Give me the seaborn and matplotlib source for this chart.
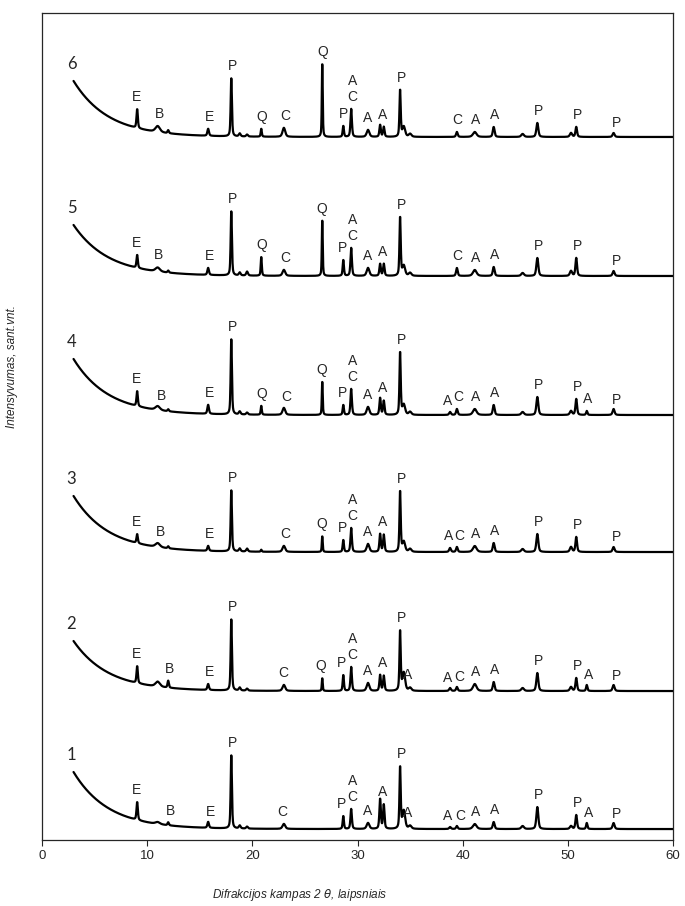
import numpy as np
import pandas as pd
from matplotlib import pyplot as plt
import seaborn as sns

# peak positions (2 theta, deg) and their widths (FWHM, deg)
peak_pos = [9.05, 11.0, 12.0, 15.8, 18.0, 18.8, 19.5, 20.85, 23.0, 26.65,
            28.65, 29.4, 31.0, 32.15, 32.5, 34.05, 34.4, 35.0, 38.8, 39.45,
            41.15, 42.95, 45.7, 47.1, 50.3, 50.8, 51.8, 54.35]
peak_fwhm = [0.15, 0.5, 0.15, 0.18, 0.14, 0.2, 0.2, 0.12, 0.3, 0.1,
             0.14, 0.16, 0.3, 0.16, 0.16, 0.14, 0.3, 0.3, 0.2, 0.18,
             0.4, 0.2, 0.3, 0.22, 0.25, 0.18, 0.15, 0.22]

# peak heights above background for samples 1..6 (same order as peak_pos)
heights_1 = [18, 2, 3, 6, 73, 3, 2, 0, 5, 0, 13, 20, 6, 30, 24, 62, 18, 3, 2, 3, 5, 7, 3, 22, 3, 14, 6, 6]
heights_2 = [17, 5, 7, 6, 71, 3, 2, 0, 6, 13, 16, 24, 8, 16, 15, 60, 18, 3, 3, 4, 7, 9, 3, 18, 4, 13, 6, 6]
heights_3 = [9, 4, 2, 5, 61, 3, 3, 2, 6, 16, 12, 24, 8, 18, 17, 61, 10, 3, 4, 5, 6, 9, 3, 18, 5, 15, 0, 5]
heights_4 = [15, 4, 2, 9, 75, 3, 2, 9, 7, 34, 10, 26, 8, 17, 14, 63, 10, 3, 3, 6, 6, 10, 3, 18, 4, 16, 4, 6]
heights_5 = [13, 4, 2, 7, 64, 3, 4, 19, 6, 57, 16, 28, 8, 12, 12, 59, 10, 3, 0, 8, 6, 9, 3, 18, 5, 18, 0, 5]
heights_6 = [19, 6, 3, 7, 58, 3, 2, 8, 9, 75, 11, 28, 7, 12, 10, 47, 10, 3, 0, 5, 5, 10, 3, 14, 4, 10, 0, 4]

# background of each pattern: flat level plus low-angle rise
bg_level = [11, 149, 288, 425, 564, 703]
bg_rise = [57, 50, 56, 56, 51, 56]
bg_decay = 3.3

sample_names = ["1", "2", "3", "4", "5", "6"]

# phase labels (2 theta, text) for each pattern
labels_1 = [(8.95, "E"), (12.2, "B"), (16.0, "E"), (18.1, "P"), (22.85, "C"), (28.5, "P"),
            (29.5, "A\nC"), (31.0, "A"), (32.4, "A"), (34.2, "P"), (34.8, "A"), (38.55, "A"),
            (39.75, "C"), (41.2, "A"), (43.0, "A"), (47.2, "P"), (50.9, "P"), (52.0, "A"), (54.6, "P")]
labels_2 = [(8.95, "E"), (12.1, "B"), (15.9, "E"), (18.1, "P"), (22.95, "C"), (26.5, "Q"), (28.5, "P"),
            (29.5, "A\nC"), (31.0, "A"), (32.4, "A"), (34.2, "P"), (34.8, "A"), (38.55, "A"),
            (39.7, "C"), (41.2, "A"), (43.0, "A"), (47.2, "P"), (50.9, "P"), (52.0, "A"), (54.6, "P")]
labels_3 = [(8.95, "E"), (11.3, "B"), (15.9, "E"), (18.1, "P"), (23.1, "C"), (26.6, "Q"), (28.6, "P"),
            (29.5, "A\nC"), (31.0, "A"), (32.4, "A"), (34.2, "P"), (38.65, "A"),
            (39.65, "C"), (41.2, "A"), (43.0, "A"), (47.2, "P"), (50.9, "P"), (54.6, "P")]
labels_4 = [(8.95, "E"), (11.4, "B"), (15.9, "E"), (18.1, "P"), (20.9, "Q"), (23.2, "C"), (26.6, "Q"),
            (28.6, "P"), (29.5, "A\nC"), (31.0, "A"), (32.4, "A"), (34.2, "P"), (38.6, "A"),
            (39.6, "C"), (41.2, "A"), (43.0, "A"), (47.2, "P"), (50.9, "P"), (51.9, "A"), (54.6, "P")]
labels_5 = [(8.95, "E"), (11.1, "B"), (15.9, "E"), (18.1, "P"), (20.9, "Q"), (23.1, "C"), (26.6, "Q"),
            (28.6, "P"), (29.5, "A\nC"), (31.0, "A"), (32.4, "A"), (34.2, "P"),
            (39.5, "C"), (41.2, "A"), (43.0, "A"), (47.2, "P"), (50.9, "P"), (54.6, "P")]
labels_6 = [(8.95, "E"), (11.2, "B"), (15.9, "E"), (18.1, "P"), (20.9, "Q"), (23.1, "C"), (26.65, "Q"),
            (28.7, "P"), (29.5, "A\nC"), (31.0, "A"), (32.4, "A"), (34.2, "P"),
            (39.5, "C"), (41.2, "A"), (43.0, "A"), (47.2, "P"), (50.9, "P"), (54.6, "P")]

all_heights = [heights_1, heights_2, heights_3, heights_4, heights_5, heights_6]
all_labels = [labels_1, labels_2, labels_3, labels_4, labels_5, labels_6]


def pattern(tt, heights, level, rise):
    y = level + rise * np.exp(-(tt - 3.0) / bg_decay)
    for x0, w, h in zip(peak_pos, peak_fwhm, heights):
        d = 4 * (tt - x0) ** 2 / w ** 2
        y = y + h * (0.5 * np.exp(-np.log(2) * d) + 0.5 / (1 + d))
    return y


two_theta = np.arange(3.0, 60.01, 0.02)
frames = []
for name, h, lvl, r in zip(sample_names, all_heights, bg_level, bg_rise):
    frames.append(pd.DataFrame({"two_theta": two_theta,
                                "intensity": pattern(two_theta, h, lvl, r),
                                "sample": name}))
df = pd.concat(frames, ignore_index=True)

sns.set_style("ticks")
plt.rcParams["font.family"] = ["Liberation Sans", "DejaVu Sans"]

fig = plt.figure(figsize=(6.85, 9.06), dpi=100)
ax = fig.add_axes([0.0613, 0.0728, 0.9212, 0.9129])

sns.lineplot(data=df, x="two_theta", y="intensity", units="sample", estimator=None,
             color="black", linewidth=1.6, ax=ax)

for name, lbls in zip(sample_names, all_labels):
    sub = df[df["sample"] == name]
    tt = sub["two_theta"].to_numpy()
    yy = sub["intensity"].to_numpy()
    ax.text(2.8, yy[0] + 17, name, fontsize=12, family=["Lato", "DejaVu Sans"],
            ha="center", va="center")
    for x, txt in lbls:
        near = (tt > x - 0.15) & (tt < x + 0.15)
        ax.text(x, yy[near].max() + 8, txt, fontsize=10, ha="center", va="baseline",
                linespacing=1.15)

ax.set_xlim(0, 60)
ax.set_ylim(0, 827)
ax.set_xticks(range(0, 61, 10))
ax.set_yticks([])
ax.tick_params(axis="x", direction="out", length=4, width=0.8, labelsize=9.5)
for sp in ax.spines.values():
    sp.set_linewidth(0.9)

ax.set_xlabel("Difrakcijos kampas 2 $\\it{\\theta}$, laipsniais", fontsize=8.5, style="italic")
ax.xaxis.set_label_coords(0.409, -0.057)
ax.set_ylabel("Intensyvumas, sant.vnt.", fontsize=8.5, style="italic")
ax.yaxis.set_label_coords(-0.038, 0.572)

plt.savefig("out.png", dpi=100)
